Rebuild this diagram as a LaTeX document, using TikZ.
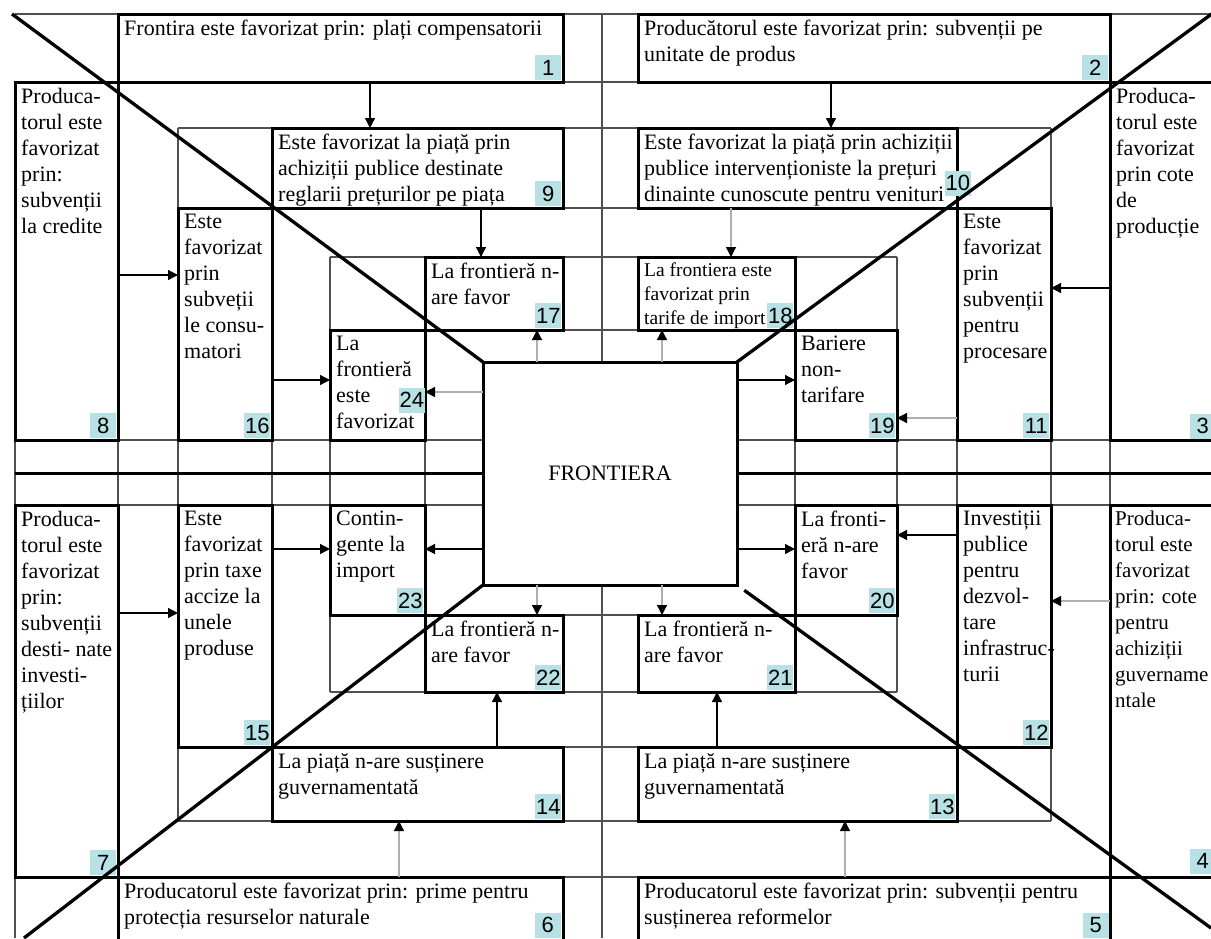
\documentclass[tikz,border=0pt]{standalone}
\usepackage{fontspec}
\setmainfont{Liberation Serif}
\newfontfamily\tagfont{Liberation Sans}
\usetikzlibrary{arrows.meta}
\definecolor{tagc}{RGB}{183,225,229}
\definecolor{gridc}{RGB}{80,80,80}
\definecolor{lgray}{RGB}{175,175,175}
\newcommand\bx[5]{\node[box, minimum width={#4-#2}, minimum height={#5-#3}] (#1) at (#2,#3) {};}
\newcommand\tx[4][]{\node[txt,#1] (#2) at ([shift={(6,6)}]#3.north west) {#4};}
\newcommand\tg[3]{\node[tagst] (#1) at ([shift={(-1.5,-1.5)}]#2.south east) {#3};}
\begin{document}
\begin{tikzpicture}[x=1pt,y=-1pt,
  grid/.style={draw=gridc, line width=1.2pt},
  box/.style={draw=black, line width=3pt, fill=white, inner sep=0pt, outer sep=0pt, anchor=north west},
  txt/.style={anchor=north west, inner sep=0pt, align=left, font=\fontsize{22}{26}\selectfont},
  small/.style={font=\fontsize{19.5}{24}\selectfont},
  tagst/.style={fill=tagc, inner sep=0pt, minimum width=26pt, minimum height=25pt, font=\tagfont\fontsize{22}{22}\selectfont, anchor=south east},
  arrB/.style={draw=black, line width=1.3pt, -{Triangle[length=10pt,width=10pt]}},
  arrG/.style={draw=lgray, line width=1.3pt, -{Triangle[length=10pt,width=10pt,color=black]}},
  diag/.style={draw=black, line width=3.3pt},
]
\useasboundingbox (0,0) rectangle (1211,938);
\clip (0,0) rectangle (1211,938);
% thin grid
\draw[grid] (15,14) -- (1211,14);
\draw[grid] (15,82) -- (1211,82);
\draw[grid] (178,128) -- (1051,128);
\draw[grid] (178,208) -- (1051,208);
\draw[grid] (330,257) -- (897,257);
\draw[grid] (330,330) -- (897,330);
\draw[grid] (15,440) -- (1211,440);
\draw[grid] (15,505) -- (1211,505);
\draw[grid] (330,615) -- (897,615);
\draw[grid] (330,692) -- (897,692);
\draw[grid] (178,747) -- (1051,747);
\draw[grid] (178,821) -- (1051,821);
\draw[grid] (15,877) -- (1211,877);
\draw[grid] (15,82) -- (15,938);
\draw[grid] (118,14) -- (118,938);
\draw[grid] (178,128) -- (178,821);
\draw[grid] (272,128) -- (272,821);
\draw[grid] (330,257) -- (330,692);
\draw[grid] (425,257) -- (425,692);
\draw[grid] (602,14) -- (602,938);
\draw[grid] (795,257) -- (795,692);
\draw[grid] (897,257) -- (897,692);
\draw[grid] (957,128) -- (957,821);
\draw[grid] (1051,128) -- (1051,821);
\draw[grid] (1110,14) -- (1110,938);
% boxes
\bx{b1}{118}{14}{563}{82}
\bx{b2}{638}{14}{1110}{82}
\bx{b8}{15}{82}{118}{440}
\bx{b3}{1110}{82}{1216}{440}
\bx{b7}{15}{505}{118}{877}
\bx{b4}{1110}{505}{1216}{877}
\bx{b6}{118}{877}{563}{945}
\bx{b5}{638}{877}{1110}{945}
\bx{b9}{272}{128}{563}{208}
\bx{b10}{638}{128}{957}{208}
\bx{b16}{178}{208}{272}{440}
\bx{b11}{957}{208}{1051}{440}
\bx{b15}{178}{505}{272}{747}
\bx{b12}{957}{505}{1051}{747}
\bx{b14}{272}{747}{563}{821}
\bx{b13}{638}{747}{957}{821}
\bx{b17}{425}{257}{563}{330}
\bx{b18}{638}{257}{795}{330}
\bx{b24}{330}{330}{425}{440}
\bx{b19}{795}{330}{897}{440}
\bx{b23}{330}{505}{425}{615}
\bx{b20}{795}{505}{897}{615}
\bx{b22}{425}{615}{563}{692}
\bx{b21}{638}{615}{795}{692}
\node[box, minimum width=254, minimum height=223, font=\fontsize{22}{25}\selectfont, text depth=-6pt] (c) at (483,362) {FRONTIERA};
% texts
\tx{t1}{b1}{Frontira este favorizat prin: plați compensatorii}
\tx{t2}{b2}{Producătorul este favorizat prin: subvenții pe\\unitate de produs}
\tx{t8}{b8}{Produca-\\torul este\\favorizat\\prin:\\subvenții\\la credite}
\tx{t3}{b3}{Produca-\\torul este\\favorizat\\prin cote\\de\\producție}
\tx{t7}{b7}{Produca-\\torul este\\favorizat\\prin:\\subvenții\\desti- nate\\investi-\\țiilor}
\tx[font=\fontsize{21}{26}\selectfont, xshift=-1pt]{t4}{b4}{Produca-\\torul este\\favorizat\\prin: cote\\pentru\\achiziții\\guvername\\ntale}
\tx{t6}{b6}{Producatorul este favorizat prin: prime pentru\\protecția resurselor naturale}
\tx{t5}{b5}{Producatorul este favorizat prin: subvenții pentru\\susținerea reformelor}
\tx{t9}{b9}{Este favorizat la piață prin\\achiziții publice destinate\\reglarii prețurilor pe piața}
\tx{t10}{b10}{Este favorizat la piață prin achiziții\\publice intervenționiste la prețuri\\dinainte cunoscute pentru venituri}
\tx{t16}{b16}{Este\\favorizat\\prin\\subveții\\le consu-\\matori}
\tx{t11}{b11}{Este\\favorizat\\prin\\subvenții\\pentru\\procesare}
\tx{t15}{b15}{Este\\favorizat\\prin taxe\\accize la\\unele\\produse}
\tx{t12}{b12}{Investiții\\publice\\pentru\\dezvol-\\tare\\infrastruc-\\turii}
\tx{t14}{b14}{La piață n-are susținere\\guvernamentată}
\tx{t13}{b13}{La piață n-are susținere\\guvernamentată}
\tx{t17}{b17}{La frontieră n-\\are favor}
\tx[small]{t18}{b18}{La frontiera este\\favorizat prin\\tarife de import}
\tx{t24}{b24}{La\\frontieră\\este\\favorizat}
\tx{t19}{b19}{Bariere\\non-\\tarifare}
\tx{t23}{b23}{Contin-\\gente la\\import}
\tx{t20}{b20}{La fronti-\\eră n-are\\favor}
\tx{t22}{b22}{La frontieră n-\\are favor}
\tx{t21}{b21}{La frontieră n-\\are favor}
% tags
\tg{g1}{b1}{1}
\tg{g2}{b2}{2}
\tg{g8}{b8}{8}
\node[tagst] (g3) at (1216,439) {3};
\node[tagst] (g4) at (1216,874) {4};
\tg{g7}{b7}{7}
\node[tagst] (g6) at (561,938) {6};
\node[tagst] (g5) at (1109,938) {5};
\tg{g9}{b9}{9}
\node[tagst] (g10) at (971,196) {10};
\tg{g16}{b16}{16}
\tg{g11}{b11}{11}
\tg{g15}{b15}{15}
\tg{g12}{b12}{12}
\tg{g14}{b14}{14}
\tg{g13}{b13}{13}
\tg{g17}{b17}{17}
\tg{g18}{b18}{18}
\node[tagst] (g24) at (425,413) {24};
\tg{g19}{b19}{19}
\tg{g23}{b23}{23}
\tg{g20}{b20}{20}
\tg{g22}{b22}{22}
\tg{g21}{b21}{21}
% connectors
\draw[arrB] (b1.south -| 370,0) -- (b9.north -| 370,0);
\draw[arrB] (b2.south -| 831,0) -- (b10.north -| 831,0);
\draw[arrB] (b9.south -| 481,0) -- (b17.north -| 481,0);
\draw[arrG] (b10.south -| 731,0) -- (b18.north -| 731,0);
\draw[arrG] (c.north -| 537,0) -- (b17.south -| 537,0);
\draw[arrG] (c.north -| 662,0) -- (b18.south -| 662,0);
\draw[arrB] (b8.east |- 0,275) -- (b16.west |- 0,275);
\draw[arrB] (b16.east |- 0,380) -- (b24.west |- 0,380);
\draw[arrG] (c.west |- 0,392) -- (b24.east |- 0,392);
\draw[arrB] (b3.west |- 0,288) -- (b11.east |- 0,288);
\draw[arrG] (b11.west |- 0,418) -- (b19.east |- 0,418);
\draw[arrB] (c.east |- 0,380) -- (b19.west |- 0,380);
\draw[arrB] (b7.east |- 0,613) -- (b15.west |- 0,613);
\draw[arrB] (b15.east |- 0,549) -- (b23.west |- 0,549);
\draw[arrB] (c.west |- 0,549) -- (b23.east |- 0,549);
\draw[arrB] (b12.west |- 0,535) -- (b20.east |- 0,535);
\draw[arrB] (c.east |- 0,549) -- (b20.west |- 0,549);
\draw[arrG] (b4.west |- 0,601) -- (b12.east |- 0,601);
\draw[arrG] (c.south -| 537,0) -- (b22.north -| 537,0);
\draw[arrG] (c.south -| 662,0) -- (b21.north -| 662,0);
\draw[arrB] (b14.north -| 497,0) -- (b22.south -| 497,0);
\draw[arrB] (b13.north -| 717,0) -- (b21.south -| 717,0);
\draw[arrG] (b6.north -| 399,0) -- (b14.south -| 399,0);
\draw[arrG] (b5.north -| 845,0) -- (b13.south -| 845,0);
% centre cross line and diagonals
\coordinate (dTL) at (12,14);
\coordinate (dTR) at (1213,13);
\coordinate (dBL) at (24,938);
\coordinate (dBR) at (1211,928);
\draw[line width=3pt] (15,473) -- (c.west |- 0,473);
\draw[line width=3pt] (c.east |- 0,473) -- (1211,473);
\draw[diag] (dTL) -- (c.north west);
\draw[diag] (dTR) -- (c.north east);
\draw[diag] (c.south west) -- (dBL);
\draw[diag, shorten <=9pt] (c.south east) -- (dBR);
\end{tikzpicture}
\end{document}
